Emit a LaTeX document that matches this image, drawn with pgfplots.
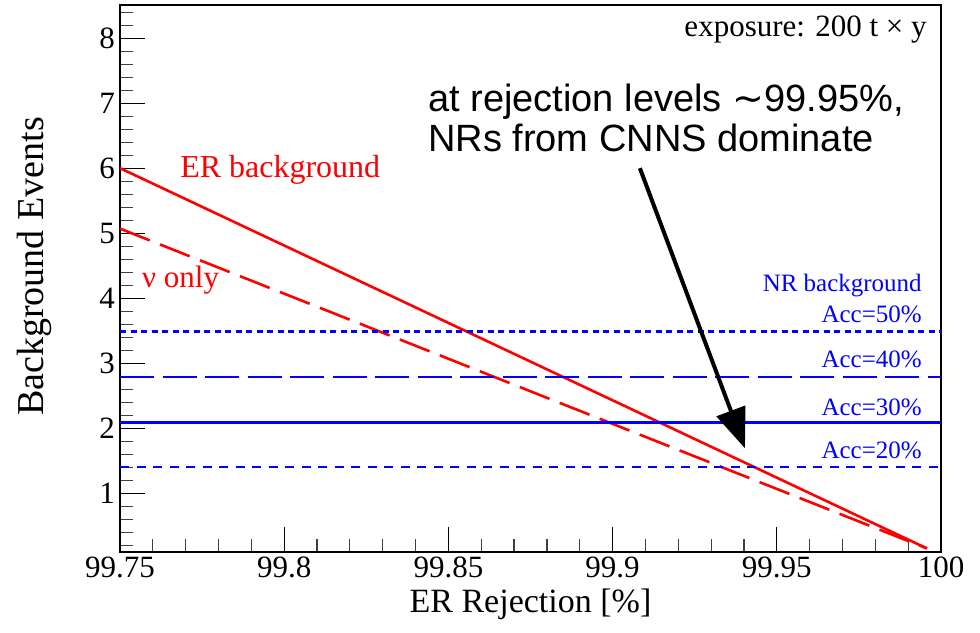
\documentclass[border=0pt]{standalone}
\usepackage{pgfplots}
\pgfplotsset{compat=1.18}
\usepackage{fontspec}
\setmainfont{Liberation Serif}
\newfontfamily\arial{Liberation Sans}
\newfontfamily\dejavu{DejaVu Sans}
\usetikzlibrary{arrows.meta}
\begin{document}
\begin{tikzpicture}
\path[use as bounding box] (0bp,0bp) rectangle (980bp,633bp);
\begin{axis}[
  at={(120bp,81bp)}, anchor=south west,
  scale only axis, width=821bp, height=547bp,
  xmin=99.75, xmax=100, ymin=0.095, ymax=8.51,
  xtick={99.75,99.8,99.85,99.9,99.95,100},
  xticklabels={99.75,99.8,99.85,99.9,99.95,100},
  minor xtick={99.76,99.77,99.78,99.79,99.81,99.82,99.83,99.84,99.86,99.87,99.88,99.89,99.91,99.92,99.93,99.94,99.96,99.97,99.98,99.99},
  ytick={1,2,3,4,5,6,7,8},
  yticklabels={1,2,3,4,5,6,7,8},
  minor ytick={0.2,0.4,0.6,0.8,1.2,1.4,1.6,1.8,2.2,2.4,2.6,2.8,3.2,3.4,3.6,3.8,4.2,4.4,4.6,4.8,5.2,5.4,5.6,5.8,6.2,6.4,6.6,6.8,7.2,7.4,7.6,7.8,8.2,8.4},
  tick align=inside, tick pos=left,
  major tick length=25bp, minor tick length=13bp,
  tick style={black, line width=1.2bp},
  minor tick style={black!75, line width=1.2bp},
  axis line style={black, line width=1.5bp},
  /pgf/number format/assume math mode=true,
  ticklabel style={font=\fontsize{31bp}{36bp}\selectfont},
  xticklabel style={inner ysep=0pt, yshift=-5bp},
  yticklabel style={inner xsep=0pt, xshift=-5bp},
  xlabel={ER Rejection [\%]},
  ylabel={Background Events},
  xlabel style={font=\fontsize{34bp}{40bp}\selectfont, at={(axis description cs:0.5,-0.1097)}, anchor=base},
  ylabel style={font=\fontsize{38bp}{44bp}\selectfont, at={(axis description cs:-0.0926,0.522)}, anchor=base},
  clip=true,
]
\addplot[red, line width=2.6bp] coordinates {(99.75,6.0) (99.9957,0.15)};
\addplot[red, line width=2.6bp, dash pattern=on 32bp off 11bp] coordinates {(99.75,5.07) (99.9957,0.15)};
\addplot[blue, line width=2.6bp, dash pattern=on 6bp off 4.5bp] coordinates {(99.75,3.49) (100,3.49)};
\addplot[blue, line width=2.6bp, dash pattern=on 34bp off 8.5bp] coordinates {(99.75,2.79) (100,2.79)};
\addplot[blue, line width=2.6bp] coordinates {(99.75,2.09) (100,2.09)};
\addplot[blue, line width=2.6bp, dash pattern=on 9bp off 7.5bp] coordinates {(99.75,1.40) (100,1.40)};

\node[anchor=base west, text=red, inner sep=0pt, font=\fontsize{32bp}{36bp}\selectfont] at (axis cs:99.7683,5.85) {ER background};
\node[anchor=base west, text=red, inner sep=0pt, font=\fontsize{31bp}{36bp}\selectfont] at (axis cs:99.7567,4.16) {ν only};
\node[anchor=base east, text=blue, inner sep=0pt, font=\fontsize{25bp}{29bp}\selectfont] at (axis cs:99.9942,4.10) {NR background};
\node[anchor=base east, text=blue, inner sep=0pt, font=\fontsize{25bp}{29bp}\selectfont] at (axis cs:99.9942,3.62) {Acc=50\%};
\node[anchor=base east, text=blue, inner sep=0pt, font=\fontsize{25bp}{29bp}\selectfont] at (axis cs:99.9942,2.93) {Acc=40\%};
\node[anchor=base east, text=blue, inner sep=0pt, font=\fontsize{25bp}{29bp}\selectfont] at (axis cs:99.9942,2.20) {Acc=30\%};
\node[anchor=base east, text=blue, inner sep=0pt, font=\fontsize{25bp}{29bp}\selectfont] at (axis cs:99.9942,1.53) {Acc=20\%};
\node[anchor=base east, text=black, inner sep=0pt, font=\fontsize{31bp}{36bp}\selectfont] at (axis cs:99.9957,8.02) {exposure: 200 t × y};
\node[anchor=base west, text=black, inner sep=0pt, font=\arial\fontsize{38bp}{42bp}\selectfont] at (axis cs:99.8438,6.87) {at rejection levels {\dejavu ∼}99.95\%,};
\node[anchor=base west, text=black, inner sep=0pt, font=\arial\fontsize{38bp}{42bp}\selectfont] at (axis cs:99.8438,6.25) {NRs from CNNS dominate};
\draw[black, line width=4bp, -{Triangle[length=40bp, width=30bp]}] (axis cs:99.9083,6.0) -- (axis cs:99.9403,1.69);
\end{axis}
\end{tikzpicture}
\end{document}
